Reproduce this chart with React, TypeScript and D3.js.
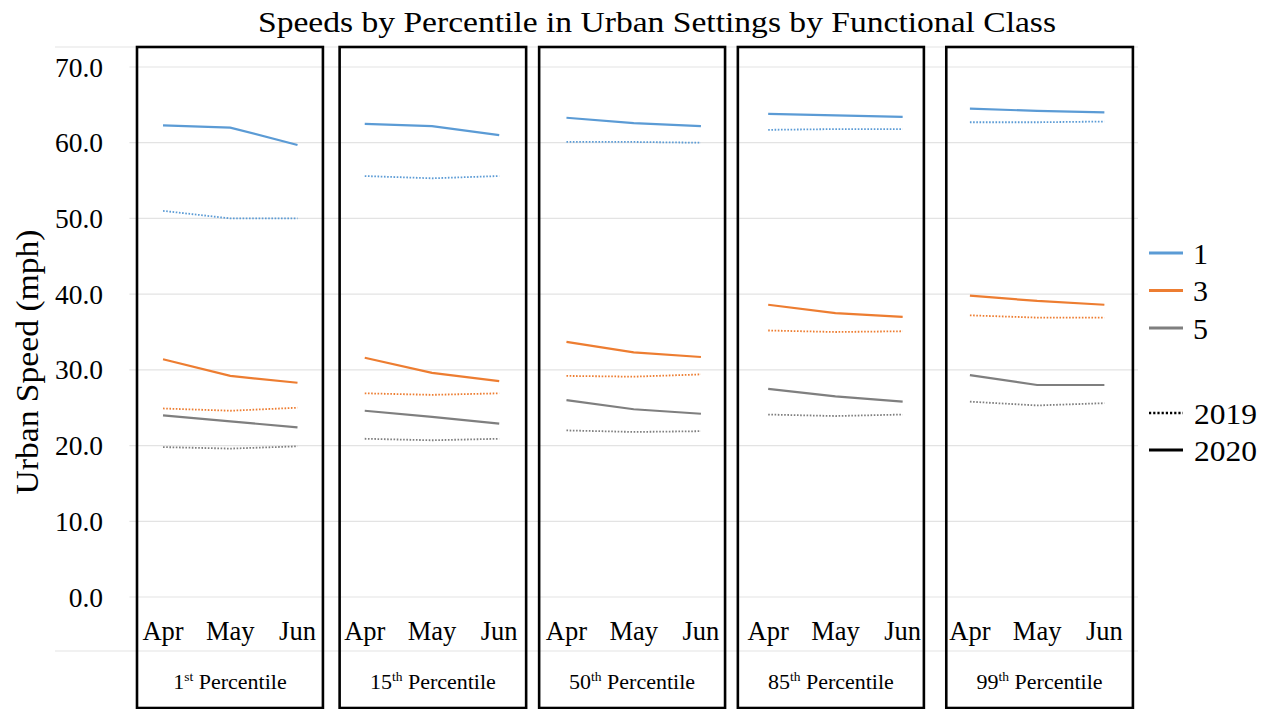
import React from "react";
import * as d3 from "d3";

const TITLE = "Speeds by Percentile in Urban Settings by Functional Class";
const Y_TITLE = "Urban Speed (mph)";
const months = ["Apr", "May", "Jun"];
const percentiles = [
  { num: "1", sup: "st" },
  { num: "15", sup: "th" },
  { num: "50", sup: "th" },
  { num: "85", sup: "th" },
  { num: "99", sup: "th" },
];
const yTicks = [0, 10, 20, 30, 40, 50, 60, 70];

// values per panel (Apr, May, Jun) x 5 percentile panels
const fc1_2020 = [62.3, 62.0, 59.7, 62.5, 62.2, 61.0, 63.3, 62.6, 62.2, 63.8, 63.6, 63.4, 64.5, 64.2, 64.0];
const fc1_2019 = [51.0, 50.0, 50.0, 55.6, 55.3, 55.6, 60.1, 60.1, 60.0, 61.7, 61.8, 61.8, 62.7, 62.7, 62.8];
const fc3_2020 = [31.4, 29.2, 28.3, 31.6, 29.6, 28.5, 33.7, 32.3, 31.7, 38.6, 37.5, 37.0, 39.8, 39.1, 38.6];
const fc3_2019 = [24.9, 24.6, 25.0, 26.9, 26.7, 26.9, 29.2, 29.1, 29.4, 35.2, 35.0, 35.1, 37.2, 36.9, 36.9];
const fc5_2020 = [24.0, 23.2, 22.4, 24.6, 23.8, 22.9, 26.0, 24.8, 24.2, 27.5, 26.5, 25.8, 29.3, 28.0, 28.0];
const fc5_2019 = [19.8, 19.6, 19.9, 20.9, 20.7, 20.9, 22.0, 21.8, 21.9, 24.1, 23.9, 24.1, 25.8, 25.3, 25.6];

const classes = ["1", "3", "5"];
const classColors = ["#5B9BD5", "#ED7D31", "#7F7F7F"];
const years = ["2019", "2020"];

const series = [
  { cls: 0, year: "2020", values: fc1_2020 },
  { cls: 0, year: "2019", values: fc1_2019 },
  { cls: 1, year: "2020", values: fc3_2020 },
  { cls: 1, year: "2019", values: fc3_2019 },
  { cls: 2, year: "2020", values: fc5_2020 },
  { cls: 2, year: "2019", values: fc5_2019 },
];

const FONT = "'Liberation Serif', 'Times New Roman', serif";

export default function App() {
  const W = 1274, H = 709;
  const plotLeft = 129.4, plotRight = 1138;
  const cats = d3.range(percentiles.length * months.length).map(String);
  const x = d3.scalePoint<string>().domain(cats).range([plotLeft, plotRight]).padding(0.5);
  const y = d3.scaleLinear().domain([0, 70]).range([597, 67]);
  const step = x.step();
  const boxTop = 47, boxBottom = 708;
  const insetL = [7.6, 8.5, 6.3, 3.3, 10];
  const insetR = [8.2, 6.7, 9.5, 12.4, 5.1];

  const line = d3.line<[number, number]>().x(d => d[0]).y(d => d[1]);

  return (
    <svg width={W} height={H} style={{ position: "absolute", left: 0, top: 0, background: "#fff" }} fontFamily={FONT}>
      <rect x={0} y={0} width={W} height={H} fill="#fff" />
      <text x={657} y={32} textAnchor="middle" fontSize={30} fill="#000" textLength={798} lengthAdjust="spacingAndGlyphs">{TITLE}</text>

      {/* frame lines */}
      <line x1={55} x2={plotRight} y1={47} y2={47} stroke="#e3e3e3" strokeWidth={1.2} />
      <line x1={55} x2={plotRight} y1={651} y2={651} stroke="#e3e3e3" strokeWidth={1.2} />

      {/* gridlines */}
      {yTicks.map(t => (
        <line key={t} x1={plotLeft} x2={plotRight} y1={y(t)} y2={y(t)} stroke="#e3e3e3" strokeWidth={1.2} />
      ))}
      {yTicks.map(t => (
        <text key={"l" + t} x={103} y={y(t)} dy="0.35em" textAnchor="end" fontSize={27.5} fill="#000">{t.toFixed(1)}</text>
      ))}
      <text transform={`translate(38,${362}) rotate(-90)`} textAnchor="middle" fontSize={31} fill="#000" textLength={265} lengthAdjust="spacingAndGlyphs">{Y_TITLE}</text>

      {/* series lines, broken per panel */}
      {series.map((s, si) =>
        percentiles.map((p, pi) => {
          const pts: [number, number][] = months.map((m, mi) => {
            const idx = pi * months.length + mi;
            return [x(String(idx)) as number, y(s.values[idx])];
          });
          return (
            <path key={si + "-" + pi} d={line(pts) || ""} fill="none" stroke={classColors[s.cls]}
              strokeWidth={s.year === "2020" ? 2.2 : 1.8}
              strokeDasharray={s.year === "2019" ? "1.6 1.6" : undefined} />
          );
        })
      )}

      {/* month labels */}
      {cats.map((c, i) => (
        <text key={"m" + c} x={x(c) as number} y={640} textAnchor="middle" fontSize={26.5} fill="#000">
          {months[i % months.length]}
        </text>
      ))}

      {/* panel boxes and percentile labels */}
      {percentiles.map((p, pi) => {
        const left = (x(String(pi * months.length)) as number) - step / 2 + insetL[pi];
        const right = (x(String(pi * months.length + 2)) as number) + step / 2 - insetR[pi];
        return (
          <g key={"p" + pi}>
            <rect x={left} y={boxTop} width={right - left} height={boxBottom - boxTop} fill="none" stroke="#000" strokeWidth={2.6} />
            <text x={(left + right) / 2} y={689} textAnchor="middle" fontSize={22} fill="#000">
              <tspan>{p.num}</tspan>
              <tspan fontSize={13.5} dy={-8}>{p.sup}</tspan>
              <tspan dy={8}>{" Percentile"}</tspan>
            </text>
          </g>
        );
      })}

      {/* legend */}
      {classes.map((c, i) => (
        <g key={"lg" + c}>
          <line x1={1149} x2={1183} y1={253 + i * 37.5} y2={253 + i * 37.5} stroke={classColors[i]} strokeWidth={3} />
          <text x={1193} y={253 + i * 37.5} dy="0.35em" fontSize={30} fill="#000">{c}</text>
        </g>
      ))}
      {years.map((yr, i) => (
        <g key={"ly" + yr}>
          <line x1={1149} x2={1183} y1={413 + i * 37} y2={413 + i * 37} stroke="#000" strokeWidth={yr === "2019" ? 2.4 : 3}
            strokeDasharray={yr === "2019" ? "2.2 2" : undefined} />
          <text x={1194} y={413 + i * 37} dy="0.35em" fontSize={30} fill="#000" textLength={63} lengthAdjust="spacingAndGlyphs">{yr}</text>
        </g>
      ))}
    </svg>
  );
}
